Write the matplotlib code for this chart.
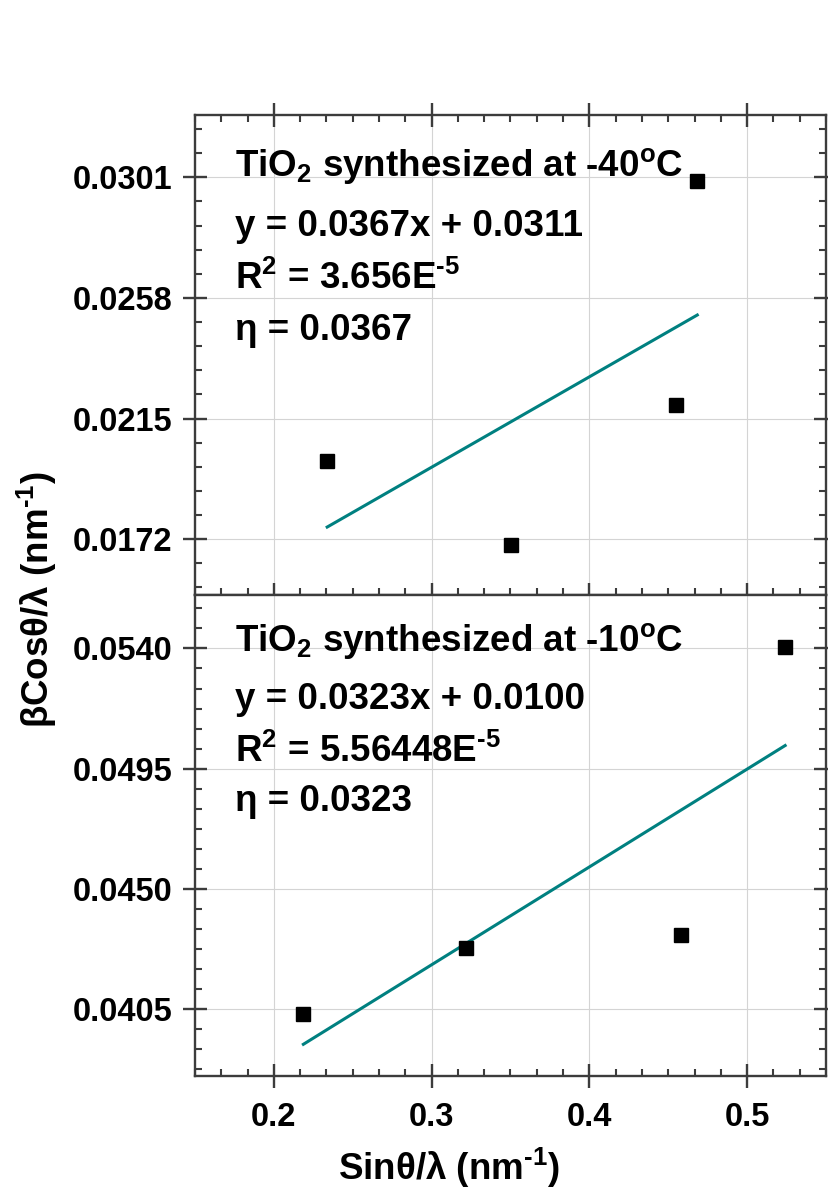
import numpy as np
import matplotlib.pyplot as plt
from matplotlib.ticker import FixedLocator, AutoMinorLocator, FormatStrFormatter

plt.rcParams['font.family'] = ['Liberation Sans', 'DejaVu Sans']
plt.rcParams['font.weight'] = 'bold'
plt.rcParams['mathtext.fontset'] = 'custom'
plt.rcParams['mathtext.rm'] = 'Liberation Sans:bold'
plt.rcParams['mathtext.it'] = 'Liberation Sans:bold'
plt.rcParams['mathtext.bf'] = 'Liberation Sans:bold'
plt.rcParams['mathtext.default'] = 'rm'

# data
x_m40 = [0.2338, 0.3506, 0.4546, 0.4684]
y_m40 = [0.0200, 0.0170, 0.02198, 0.02998]
x_m10 = [0.2187, 0.3218, 0.4579, 0.5241]
y_m10 = [0.04031, 0.04279, 0.04329, 0.05407]

yticks_m40 = [0.0172, 0.0215, 0.0258, 0.0301]
yticks_m10 = [0.0405, 0.0450, 0.0495, 0.0540]
xticks = [0.2, 0.3, 0.4, 0.5]

notes_m40 = [r'TiO$_2$ synthesized at -40$^{\mathrm{o}}$C',
             'y = 0.0367x + 0.0311',
             r'R$^2$ = 3.656E$^{\text{-5}}$',
             'η = 0.0367']
notes_m10 = [r'TiO$_2$ synthesized at -10$^{\mathrm{o}}$C',
             'y = 0.0323x + 0.0100',
             r'R$^2$ = 5.56448E$^{\text{-5}}$',
             'η = 0.0323']

frame = '#3c3c3c'
teal = '#008080'

fig = plt.figure(figsize=(8.29, 11.89), dpi=100)
ax1 = fig.add_axes([0.2352, 0.4996, 0.7612, 0.4037])
ax2 = fig.add_axes([0.2352, 0.0950, 0.7612, 0.4046], sharex=ax1)


def style(ax, yticks, ylim, nminor_y, top_ticks, bottom_labels):
    ax.set_xlim(0.15, 0.55)
    ax.set_ylim(*ylim)
    ax.xaxis.set_major_locator(FixedLocator(xticks))
    ax.xaxis.set_minor_locator(AutoMinorLocator(6))
    ax.yaxis.set_major_locator(FixedLocator(yticks))
    ax.yaxis.set_minor_locator(AutoMinorLocator(nminor_y))
    ax.yaxis.set_major_formatter(FormatStrFormatter('%.4f'))
    ax.xaxis.set_major_formatter(FormatStrFormatter('%.1f'))
    ax.grid(True, which='major', color='#d4d4d4', linewidth=0.8)
    ax.set_axisbelow(True)
    for sp in ax.spines.values():
        sp.set_color(frame)
        sp.set_linewidth(1.7)
    ax.tick_params(which='major', direction='inout', length=17, width=1.7,
                   color=frame, labelsize=23.5, pad=8,
                   top=top_ticks, right=True, labelbottom=bottom_labels)
    ax.tick_params(which='minor', direction='in', length=5, width=1.5,
                   color=frame, top=top_ticks, right=True)
    ax.tick_params(axis='x', which='major', pad=10)


style(ax1, yticks_m40, (0.01521, 0.03232), 5, True, False)
style(ax2, yticks_m10, (0.0380, 0.0560), 6, False, True)


def panel(ax, xs, ys, notes, ybase):
    xs = np.array(xs)
    ys = np.array(ys)
    k, b = np.polyfit(xs, ys, 1)
    xl = np.array([xs.min(), xs.max()])
    ax.plot(xl, k * xl + b, color=teal, lw=2.2, zorder=2)
    ax.plot(xs, ys, 's', color='black', ms=9.5, zorder=3)
    for s, yb in zip(notes, ybase):
        ax.text(0.0634, yb, s, transform=ax.transAxes, fontsize=26.5,
                fontweight='bold', va='baseline', ha='left')


panel(ax1, x_m40, y_m40, notes_m40, [0.873, 0.7485, 0.6375, 0.531])
panel(ax2, x_m10, y_m10, notes_m10, [0.884, 0.764, 0.653, 0.551])

ax2.set_xlabel(r'Sinθ/λ (nm$^{\text{-1}}$)', fontsize=26.5, fontweight='bold', va='baseline')
ax2.xaxis.set_label_coords(0.403, -0.216)
ax2.set_ylabel(r'βCosθ/λ (nm$^{\text{-1}}$)', fontsize=26.5, fontweight='bold', va='center')
ax2.yaxis.set_label_coords(-0.251, 0.99)

fig.savefig('out.png', dpi=100)
